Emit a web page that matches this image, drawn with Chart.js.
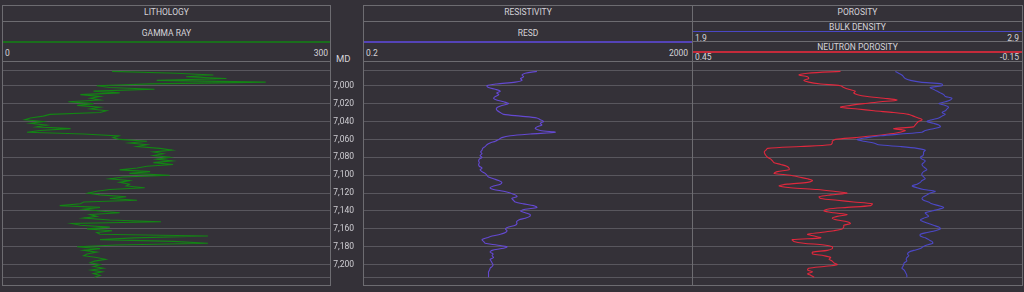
<!DOCTYPE html>
<html>
<head>
<meta charset="utf-8">
<title>Well log</title>
<script src="https://cdn.jsdelivr.net/npm/chart.js@4.4.1/dist/chart.umd.min.js"></script>
<style>
  body { margin: 0; width: 1024px; height: 292px; overflow: hidden; background: #343138;
         font-family: Roboto, "Open Sans", sans-serif; color: #d4d3d8; }
  .box { position: absolute; box-sizing: border-box; border: 1px solid #6d6c71; }
  .hline { position: absolute; height: 1px; background: #6d6c71; }
  .lbl { position: absolute; font-size: 8.5px; line-height: 10px; white-space: nowrap; }
  .mid { text-align: center; }
  canvas { position: absolute; }
</style>
</head>
<body>

<!-- track frames -->
<div class="box" style="left:2px;top:5px;width:329px;height:281px"></div>
<div class="box" style="left:363px;top:5px;width:330px;height:281px"></div>
<div class="box" style="left:692px;top:5px;width:331px;height:281px"></div>

<!-- lithology header -->
<div class="lbl mid" style="left:2px;width:329px;top:7px">LITHOLOGY</div>
<div class="hline" style="left:2px;width:329px;top:21px"></div>
<div class="lbl mid" style="left:2px;width:329px;top:28px">GAMMA RAY</div>
<div class="hline" style="left:3px;width:327px;top:41px;height:2px;background:#1a6e1c"></div>
<div class="lbl" style="left:5px;top:48px">0</div>
<div class="lbl" style="right:696px;top:48px">300</div>
<div class="hline" style="left:2px;width:329px;top:61px"></div>

<!-- depth header -->
<div class="lbl" style="left:336px;top:54px;font-size:9.5px">MD</div>

<!-- resistivity header -->
<div class="lbl mid" style="left:363px;width:330px;top:7px">RESISTIVITY</div>
<div class="hline" style="left:363px;width:330px;top:21px"></div>
<div class="lbl mid" style="left:363px;width:330px;top:28px">RESD</div>
<div class="hline" style="left:364px;width:328px;top:41px;height:2px;background:#5443b8"></div>
<div class="lbl" style="left:366px;top:48px">0.2</div>
<div class="lbl" style="right:336px;top:48px">2000</div>
<div class="hline" style="left:363px;width:330px;top:61px"></div>

<!-- porosity header -->
<div class="lbl mid" style="left:692px;width:331px;top:7px">POROSITY</div>
<div class="hline" style="left:692px;width:331px;top:21px"></div>
<div class="lbl mid" style="left:692px;width:331px;top:22px">BULK DENSITY</div>
<div class="hline" style="left:693px;width:329px;top:31px;background:#4a47c4"></div>
<div class="lbl" style="left:695px;top:33px">1.9</div>
<div class="lbl" style="right:5px;top:33px">2.9</div>
<div class="hline" style="left:692px;width:331px;top:41px"></div>
<div class="lbl mid" style="left:692px;width:331px;top:42px">NEUTRON POROSITY</div>
<div class="hline" style="left:693px;width:329px;top:51px;height:2px;background:#c42a3a"></div>
<div class="lbl" style="left:695px;top:52px">0.45</div>
<div class="lbl" style="right:5px;top:52px">-0.15</div>
<div class="hline" style="left:692px;width:331px;top:61px"></div>

<canvas id="grChart" width="327" height="223" style="left:3px;top:62px"></canvas>
<canvas id="mdChart" width="40" height="223" style="left:322px;top:62px"></canvas>
<canvas id="resChart" width="328" height="223" style="left:364px;top:62px"></canvas>
<canvas id="porChart" width="329" height="223" style="left:693px;top:62px"></canvas>

<script>
// depth samples (ft), every 2 ft
const DEPTH = [
  6984, 6986, 6988, 6990, 6992, 6994, 6996, 6998, 7000, 7002,
  7004, 7006, 7008, 7010, 7012, 7014, 7016, 7018, 7020, 7022,
  7024, 7026, 7028, 7030, 7032, 7034, 7036, 7038, 7040, 7042,
  7044, 7046, 7048, 7050, 7052, 7054, 7056, 7058, 7060, 7062,
  7064, 7066, 7068, 7070, 7072, 7074, 7076, 7078, 7080, 7082,
  7084, 7086, 7088, 7090, 7092, 7094, 7096, 7098, 7100, 7102,
  7104, 7106, 7108, 7110, 7112, 7114, 7116, 7118, 7120, 7122,
  7124, 7126, 7128, 7130, 7132, 7134, 7136, 7138, 7140, 7142,
  7144, 7146, 7148, 7150, 7152, 7154, 7156, 7158, 7160, 7162,
  7164, 7166, 7168, 7170, 7172, 7174, 7176, 7178, 7180, 7182,
  7184, 7186, 7188, 7190, 7192, 7194, 7196, 7198, 7200, 7202,
  7204, 7206, 7208, 7210, 7212, 7214
];

// gamma ray (API)
const GAMMA_RAY = [
  100, 159, 193, 168, 205, 141, 241, 135, 86, 98,
  139, 83, 107, 71, 89, 80, 89, 60, 83, 68,
  89, 80, 95, 89, 43, 37, 25, 20, 37, 25,
  40, 31, 62, 34, 22, 74, 106, 101, 107, 132,
  116, 132, 123, 144, 155, 138, 147, 138, 153, 141,
  155, 138, 156, 132, 123, 107, 135, 116, 153, 110,
  98, 116, 107, 116, 113, 130, 98, 86, 78, 89,
  113, 98, 123, 74, 71, 52, 89, 74, 89, 107,
  80, 86, 74, 98, 145, 63, 71, 98, 77, 100,
  86, 89, 188, 120, 89, 156, 188, 104, 68, 89,
  74, 86, 77, 74, 86, 94, 84, 80, 89, 83,
  92, 81, 91, 83, 89, 84
];

// deep resistivity (ohm.m)
const RESD = [
  25.7, 18.5, 16.9, 17.7, 16.2, 16.9, 14, 8.3, 6.3, 6.6,
  8.0, 9.2, 8.3, 8.8, 8.0, 7.6, 8.3, 10.1, 11.6, 9.6,
  8.5, 8.2, 8.5, 9.2, 10.1, 16.2, 25.7, 28.2, 31, 28.2,
  29.5, 25.7, 24.5, 28.2, 43, 21.3, 12.2, 9.6, 8.8, 8.0,
  6.9, 6.3, 6.0, 5.6, 5.5, 5.3, 5.5, 5.2, 5.5, 5.1,
  5.0, 5.1, 5.0, 5.1, 5.5, 5.2, 5.5, 6.0, 6.3, 6.6,
  7.6, 8.8, 9.6, 9.2, 7.6, 6.9, 7.6, 10.1, 12.2, 14,
  14.7, 12.7, 13.3, 14, 17.7, 23.4, 25.7, 18.5, 16.2, 18.5,
  21.3, 21, 18.5, 15.4, 14.5, 14.7, 14, 11.6, 10.6, 11.1,
  10.6, 9.2, 7.3, 6.3, 5.5, 5.75, 6, 8.3, 11.1, 9.6,
  7.3, 6.9, 7.5, 7.3, 7.6, 6.9, 7.1, 7.3, 7.5, 7.3,
  6.9, 6.8, 6.6, 6.6, 6.6, 6.6
];

// bulk density (g/cc)
const BULK_DENSITY = [
  2.515, 2.525, 2.535, 2.540, 2.545, 2.561, 2.591, 2.657, 2.657, 2.621,
  2.631, 2.641, 2.652, 2.662, 2.667, 2.687, 2.682, 2.667, 2.647, 2.667,
  2.677, 2.672, 2.667, 2.657, 2.667, 2.657, 2.647, 2.626, 2.611, 2.631,
  2.647, 2.652, 2.631, 2.606, 2.596, 2.530, 2.470, 2.429, 2.399, 2.419,
  2.449, 2.464, 2.530, 2.581, 2.606, 2.601, 2.601, 2.599, 2.591, 2.596,
  2.606, 2.601, 2.596, 2.599, 2.606, 2.611, 2.601, 2.596, 2.596, 2.601,
  2.606, 2.596, 2.591, 2.581, 2.566, 2.581, 2.601, 2.636, 2.621, 2.611,
  2.601, 2.596, 2.601, 2.616, 2.626, 2.647, 2.662, 2.647, 2.626, 2.606,
  2.611, 2.616, 2.601, 2.591, 2.601, 2.616, 2.631, 2.647, 2.652, 2.636,
  2.611, 2.591, 2.591, 2.606, 2.616, 2.626, 2.629, 2.611, 2.599, 2.591,
  2.571, 2.556, 2.552, 2.556, 2.550, 2.548, 2.550, 2.542, 2.540, 2.538,
  2.535, 2.542, 2.545, 2.548, 2.550, 2.550
];

// neutron porosity (v/v)
const NEUTRON_POROSITY = [
  0.181, 0.241, 0.257, 0.241, 0.239, 0.248, 0.239, 0.217, 0.181, 0.175,
  0.166, 0.154, 0.157, 0.150, 0.132, 0.102, 0.078, 0.108, 0.139, 0.163,
  0.181, 0.150, 0.120, 0.084, 0.057, 0.048, 0.039, 0.032, 0.039, 0.042,
  0.045, 0.048, 0.084, 0.063, 0.072, 0.093, 0.120, 0.154, 0.190, 0.196,
  0.196, 0.199, 0.254, 0.314, 0.317, 0.320, 0.319, 0.317, 0.314, 0.308,
  0.305, 0.302, 0.290, 0.279, 0.275, 0.275, 0.296, 0.302, 0.272, 0.257,
  0.241, 0.232, 0.241, 0.278, 0.293, 0.272, 0.223, 0.193, 0.169, 0.199,
  0.220, 0.217, 0.187, 0.157, 0.123, 0.126, 0.169, 0.205, 0.211, 0.193,
  0.169, 0.187, 0.196, 0.187, 0.169, 0.163, 0.175, 0.175, 0.178, 0.193,
  0.217, 0.241, 0.229, 0.217, 0.269, 0.266, 0.248, 0.211, 0.196, 0.196,
  0.205, 0.232, 0.232, 0.211, 0.199, 0.202, 0.196, 0.193, 0.187, 0.211,
  0.239, 0.241, 0.232, 0.241, 0.235, 0.229
];

// depth labels and grid lines (first/last line mark top and bottom of the logged interval)
const DEPTH_LABELS = [7000, 7020, 7040, 7060, 7080, 7100, 7120, 7140, 7160, 7180, 7200];
const GRID_DEPTHS = [6983, 7000, 7020, 7040, 7060, 7080, 7100, 7120, 7140, 7160, 7180, 7200, 7214];

const DEPTH_TOP = 6973.5;
const DEPTH_BOTTOM = 7222.7;

Chart.defaults.font.family = 'Roboto, "Open Sans", sans-serif';

function depthAxis(withLabels) {
  return {
    type: 'linear',
    reverse: true,
    min: DEPTH_TOP,
    max: DEPTH_BOTTOM,
    afterBuildTicks: s => { s.ticks = (withLabels ? DEPTH_LABELS : GRID_DEPTHS).map(v => ({ value: v })); },
    // keep the label column from shrinking the depth range
    afterFit: withLabels ? (s => { s.width = 32; s.paddingTop = 0; s.paddingBottom = 0; }) : undefined,
    border: { display: false },
    grid: { display: !withLabels, color: '#59575e', lineWidth: 1, drawTicks: false },
    ticks: {
      display: withLabels,
      padding: 0,
      color: '#cfced3',
      font: { size: 8.5 },
      callback: v => v.toLocaleString('en-US')
    }
  };
}

function curve(values, color, axisId, tension) {
  return {
    data: DEPTH.map((d, i) => ({ x: values[i], y: d })),
    borderColor: color,
    borderWidth: 1.1,
    pointRadius: 0,
    tension: tension,
    xAxisID: axisId
  };
}

function trackChart(id, datasets, xScales) {
  return new Chart(document.getElementById(id), {
    type: 'line',
    data: { datasets: datasets },
    options: {
      responsive: false,
      animation: false,
      devicePixelRatio: 1,
      events: [],
      layout: { padding: 0 },
      plugins: { legend: { display: false }, tooltip: { enabled: false } },
      scales: Object.assign({ y: depthAxis(false) }, xScales)
    }
  });
}

// gamma ray track
trackChart('grChart',
  [curve(GAMMA_RAY, '#138514', 'x', 0)],
  { x: { type: 'linear', display: false, min: 0, max: 300 } });

// resistivity track, log scale
trackChart('resChart',
  [curve(RESD, '#6449d2', 'x', 0.3)],
  { x: { type: 'logarithmic', display: false, min: 0.2, max: 2000 } });

// porosity track: density + neutron (reversed)
trackChart('porChart',
  [curve(BULK_DENSITY, '#4c48c6', 'x', 0.3), curve(NEUTRON_POROSITY, '#e0283d', 'x2', 0.3)],
  {
    x: { type: 'linear', display: false, min: 1.9, max: 2.9 },
    x2: { type: 'linear', display: false, min: -0.15, max: 0.45, reverse: true }
  });

// measured depth labels
new Chart(document.getElementById('mdChart'), {
  type: 'line',
  data: { datasets: [] },
  options: {
    responsive: false,
    animation: false,
    devicePixelRatio: 1,
    events: [],
    layout: { padding: 0 },
    plugins: { legend: { display: false }, tooltip: { enabled: false } },
    scales: {
      x: { type: 'linear', display: false },
      y: depthAxis(true)
    }
  }
});
</script>
</body>
</html>
